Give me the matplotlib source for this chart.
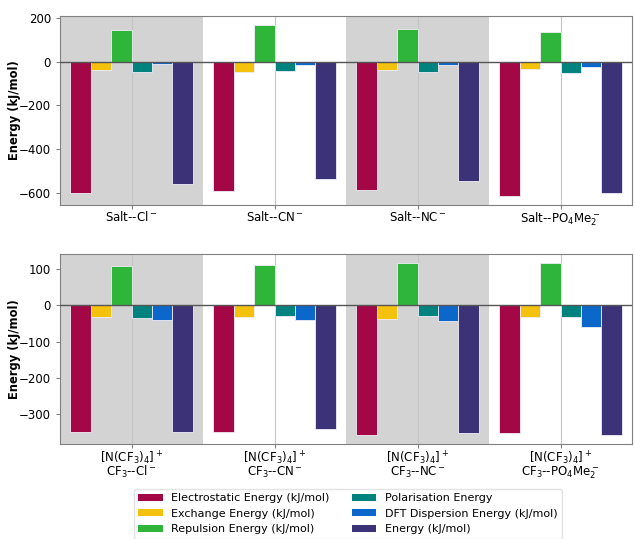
import numpy as np
import matplotlib
matplotlib.use("Agg")
import matplotlib.pyplot as plt
from matplotlib.patches import Patch
from matplotlib.ticker import MultipleLocator

# energy components, one list per term, order of the four systems
terms = ["Electrostatic Energy (kJ/mol)", "Exchange Energy (kJ/mol)",
         "Repulsion Energy (kJ/mol)", "Polarisation Energy",
         "DFT Dispersion Energy (kJ/mol)", "Energy (kJ/mol)"]
colors = ["#a30745", "#f4c20d", "#2fb53a", "#00827e", "#0b67c9", "#3b3278"]

salt_labels = ["Salt--Cl$^-$", "Salt--CN$^-$", "Salt--NC$^-$",
               "Salt--PO$_4$Me$_2^-$"]
salt_elec = [-601, -593, -585, -616]
salt_exch = [-37, -46, -40, -32]
salt_rep = [147, 169, 150, 136]
salt_pol = [-49, -41, -46, -52]
salt_disp = [-12, -15, -15, -24]
salt_tot = [-558, -535, -544, -598]

cf3_labels = ["[N(CF$_3$)$_4$]$^+$\nCF$_3$--Cl$^-$",
              "[N(CF$_3$)$_4$]$^+$\nCF$_3$--CN$^-$",
              "[N(CF$_3$)$_4$]$^+$\nCF$_3$--NC$^-$",
              "[N(CF$_3$)$_4$]$^+$\nCF$_3$--PO$_4$Me$_2^-$"]
cf3_elec = [-348, -348, -357, -352]
cf3_exch = [-32, -33, -36, -31]
cf3_rep = [108, 111, 118, 118]
cf3_pol = [-35, -28, -28, -32]
cf3_disp = [-40, -41, -44, -60]
cf3_tot = [-348, -342, -352, -358]

plt.rcParams['font.size'] = 8.5

fig = plt.figure(figsize=(6.35, 5.39), dpi=100)
ax1 = fig.add_axes([60/635, 1 - 205/539, 572/635, 189/539])
ax2 = fig.add_axes([60/635, 1 - 444/539, 572/635, 190/539])


def draw(ax, labels, series, step):
    x = np.arange(len(labels))
    w = 1/7
    for i, (vals, c) in enumerate(zip(series, colors)):
        ax.bar(x + (i - 2.5)*w, vals, w, color=c, edgecolor="#f0eef8",
               linewidth=0.6, zorder=3)
    ax.set_xlim(-0.5, len(labels) - 0.5)
    for k in range(0, len(labels), 2):
        ax.axvspan(k - 0.5, k + 0.5, color="#d3d3d3", zorder=0, lw=0)
    ax.axhline(0, color="#555555", lw=1, zorder=4)
    ax.set_xticks(x)
    ax.set_xticklabels(labels, linespacing=0.8)
    ax.yaxis.set_major_locator(MultipleLocator(step))
    ax.grid(axis="x", color="#c4c4c4", lw=0.8, zorder=1)
    ax.set_axisbelow(True)
    for s in ax.spines.values():
        s.set_color("#808080")
    ax.tick_params(colors="#808080", labelcolor="black", length=3)
    ax.tick_params(axis="x", pad=0.8)
    ax.set_ylabel("Energy (kJ/mol)", fontweight="bold", fontsize=8.3)
    ax.yaxis.set_label_coords(-0.069, 0.5)


draw(ax1, salt_labels, [salt_elec, salt_exch, salt_rep, salt_pol, salt_disp, salt_tot], 200)
draw(ax2, cf3_labels, [cf3_elec, cf3_exch, cf3_rep, cf3_pol, cf3_disp, cf3_tot], 100)
ax1.set_ylim(-655, 209)
ax2.set_ylim(-382, 142)

handles = [Patch(facecolor=c, edgecolor="none") for c in colors]
fig.legend(handles, terms, ncol=2, loc="upper center", fontsize=8,
           bbox_to_anchor=(348/635, 1 - 483/539), frameon=True,
           handlelength=2.2, handleheight=0.6, labelspacing=0.5,
           columnspacing=2.0, edgecolor="#dddddd", fancybox=True)

fig.savefig("out.png", dpi=100)
